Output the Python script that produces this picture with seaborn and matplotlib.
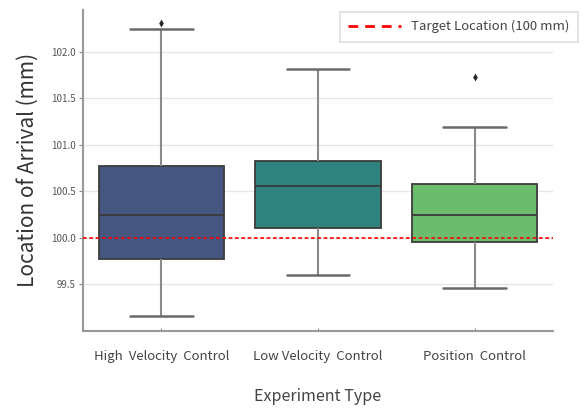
import matplotlib
matplotlib.use("Agg")
import matplotlib.pyplot as plt
from matplotlib.lines import Line2D
import numpy as np
import pandas as pd
import seaborn as sns

# Five-number summaries (lower whisker, Q1, median, Q3, upper whisker) per experiment
categories = ["High  Velocity  Control", "Low Velocity  Control", "Position  Control"]
high_velocity = [99.16, 99.77, 100.24, 100.77, 102.245]
low_velocity = [99.60, 100.11, 100.555, 100.83, 101.81]
position = [99.46, 99.95, 100.25, 100.575, 101.195]

# Points beyond the whiskers
outlier_groups = ["High  Velocity  Control", "Position  Control"]
outlier_values = [102.31, 101.73]

target = 100.0
y_ticks = [99.5, 100.0, 100.5, 101.0, 101.5, 102.0]

df = pd.DataFrame({
    "Experiment": np.repeat(categories, 5),
    "Location": high_velocity + low_velocity + position,
})
out_df = pd.DataFrame({"Experiment": outlier_groups, "Location": outlier_values})

sns.set_theme(style="whitegrid")
plt.rcParams["font.family"] = ["Noto Sans CJK KR", "DejaVu Sans"]

fig = plt.figure(figsize=(5.84, 4.09), dpi=100)
ax = fig.add_axes([0.142, 0.191, 0.805, 0.785])

palette = sns.color_palette("viridis", 3)
sns.boxplot(data=df, x="Experiment", y="Location", hue="Experiment",
            order=categories, hue_order=categories, palette=palette,
            saturation=0.75, width=0.8, linecolor="#3c3c3c", linewidth=1.3,
            whiskerprops={"color": "#8a8a8a", "linewidth": 1.5},
            capprops={"color": "#6a6a6a", "linewidth": 1.8},
            medianprops={"color": "#3a3a3a", "linewidth": 1.3},
            showfliers=False, legend=False, ax=ax)
sns.stripplot(data=out_df, x="Experiment", y="Location", order=categories,
              jitter=False, marker="d", size=4, color="#2a2a2a", ax=ax)

ax.axhline(target, color="red", linestyle=(0, (2.2, 1.6)), linewidth=1.2, zorder=5)

ax.set_xlim(-0.5, 2.5)
ax.set_ylim(99.0, 102.45)
ax.set_yticks(y_ticks)
ax.set_yticklabels([f"{v:.1f}" for v in y_ticks])
ax.grid(axis="y", color="#e6e6e6", linewidth=1.0)
ax.grid(axis="x", visible=False)

for side in ("top", "right"):
    ax.spines[side].set_visible(False)
for side in ("left", "bottom"):
    ax.spines[side].set_visible(True)
    ax.spines[side].set_color("#999999")
    ax.spines[side].set_linewidth(1.5)

ax.tick_params(axis="y", which="major", left=True, length=3, width=0.8,
               color="#888888", labelsize=7, labelcolor="#555555", pad=2)
ax.tick_params(axis="x", which="major", bottom=True, direction="in", length=2,
               width=0.8, color="#888888", labelsize=9.5, labelcolor="#444444", pad=14)

ax.set_ylabel("Location of Arrival (mm)", fontsize=15, color="#333333", labelpad=9)
ax.set_xlabel("Experiment Type", fontsize=11.5, color="#444444", labelpad=18)

handle = Line2D([0], [0], color="red", linestyle=(0, (3.5, 2.5)), linewidth=2)
leg = ax.legend([handle], ["Target Location (100 mm)"], loc="upper right",
                bbox_to_anchor=(1.068, 1.015), fontsize=9.5, frameon=True,
                handlelength=4.0, borderpad=0.65, fancybox=False)
leg.get_frame().set_edgecolor("#dddddd")
leg.get_frame().set_linewidth(1.5)
for t in leg.get_texts():
    t.set_color("#444444")

fig.savefig("out.png", dpi=100, facecolor="white")
